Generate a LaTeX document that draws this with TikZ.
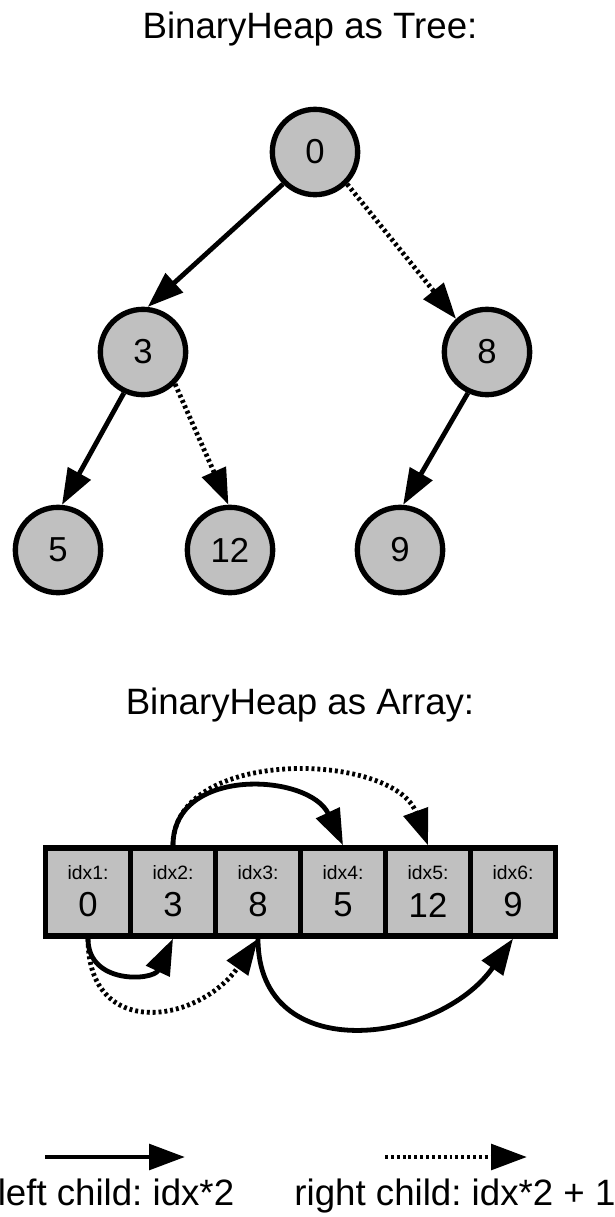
\documentclass[tikz,border=0pt]{standalone}
\usepackage{fontspec}
\setmainfont{Liberation Sans}
\usetikzlibrary{arrows.meta}
\definecolor{heapgray}{HTML}{C0C0C0}
\frenchspacing
\begin{document}
\begin{tikzpicture}[x=0.75pt,y=-0.75pt,
    heapnode/.style={circle,draw,line width=4pt,fill=heapgray,minimum size=64pt,
      inner sep=0pt,font=\fontsize{26}{30}\selectfont},
    cell/.style={rectangle,draw,line width=4pt,fill=heapgray,
      minimum width=63.75pt,minimum height=66pt,inner sep=0pt},
    idxtext/.style={inner sep=0pt,font=\fontsize{14.5}{16}\selectfont},
    valtext/.style={inner sep=0pt,font=\fontsize{26}{30}\selectfont},
    title/.style={inner sep=0pt,anchor=base,font=\fontsize{27.5}{32}\selectfont},
    leftarrow/.style={line width=3.6pt,-{Triangle[length=27pt,width=19pt]}},
    rightarrow/.style={leftarrow,dash pattern=on 2.2pt off 2.2pt}]
  \useasboundingbox (0,0) rectangle (614,1217);

  % tree
  \node[title] (treetitle) at (310,38) {BinaryHeap as Tree:};
  \draw
    (315,152) node[heapnode] (n0){0}
    (143,352) node[heapnode] (n3){3}
    (487,352) node[heapnode] (n8){8}
    (58,550) node[heapnode] (n5){5}
    (230,550) node[heapnode] (n12){12}
    (400,550) node[heapnode] (n9){9};
  \draw[leftarrow] (n0.225) -- (n3.84);
  \draw[rightarrow] (n0.-45) -- (n8.133);
  \draw[leftarrow] (n3.245) -- (n5.85);
  \draw[rightarrow] (n3.-45) -- (n12.92);
  \draw[leftarrow] (n8.245) -- (n9.86);

  % array
  \node[title] (arraytitle) at (300,714) {BinaryHeap as Array:};
  \foreach \i/\v in {1/0,2/3,3/8,4/5,5/12,6/9} {
    \node[cell] (b\i) at ({3+85*\i},892) {};
    \node[idxtext] (l\i) at ({3+85*\i},873) {idx\i:};
    \node[valtext] (v\i) at ({3+85*\i},905) {\v};
  }
  \draw[leftarrow] (b1.south) to[out=-90,in=-115,looseness=1.4] (b2.south);
  \draw[rightarrow] (b1.south) to[out=-90,in=-125,looseness=1.55] (b3.south);
  \draw[leftarrow] (b2.north) to[out=90,in=115,looseness=1.2] (b4.north);
  \draw[rightarrow] (b2.north) to[out=90,in=110,looseness=1.0] (b5.north);
  \draw[leftarrow] (b3.south) to[out=-90,in=-125,looseness=1.3] (b6.south);

  % legend
  \coordinate (ls) at (45,1157);
  \coordinate (le) at (185,1157);
  \coordinate (rs) at (385,1157);
  \coordinate (re) at (527,1157);
  \draw[leftarrow] (ls) -- (le);
  \draw[rightarrow] (rs) -- (re);
  \node[title] (lefttext) at (116,1205) {left child: idx*2};
  \node[title] (righttext) at (455,1205) {right child: idx*2 + 1};
\end{tikzpicture}
\end{document}
